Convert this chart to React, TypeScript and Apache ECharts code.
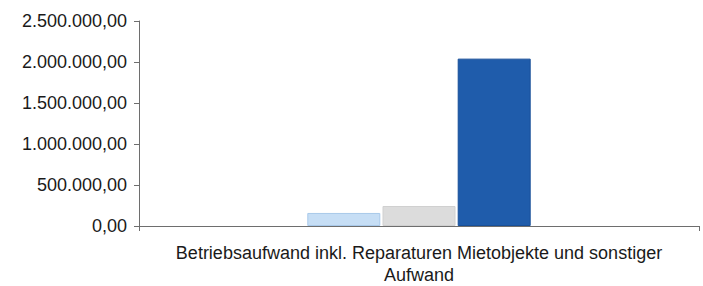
import React, { useEffect, useRef } from "react";
import * as echarts from "echarts";

const categories = ["Betriebsaufwand inkl. Reparaturen Mietobjekte und sonstiger\nAufwand"];
const seriesA = [159000];
const seriesB = [244000];
const seriesC = [2041000];
const yTicks = { min: 0, max: 2500000, interval: 500000 };

function fmtDE(v: number): string {
  const s = Math.round(v).toString().replace(/\B(?=(\d{3})+(?!\d))/g, ".");
  return s + ",00";
}

export default function App() {
  const ref = useRef<HTMLDivElement>(null);
  useEffect(() => {
    if (!ref.current) return;
    const chart = echarts.init(ref.current, undefined, { renderer: "svg" });
    const font = "Liberation Sans, Arial, sans-serif";
    chart.setOption({
      animation: false,
      grid: { left: 139, right: 4, top: 21, bottom: 58.5, containLabel: false },
      xAxis: {
        type: "category",
        data: categories,
        axisLine: { lineStyle: { color: "#6e6e6e", width: 1 } },
        axisTick: { show: true, length: 5, lineStyle: { color: "#6e6e6e" } },
        axisLabel: { color: "#1a1a1a", fontSize: 18, fontFamily: font, lineHeight: 22, margin: 16 },
      },
      yAxis: {
        type: "value",
        min: yTicks.min,
        max: yTicks.max,
        interval: yTicks.interval,
        axisLine: { show: true, lineStyle: { color: "#6e6e6e", width: 1 } },
        axisTick: { show: true, length: 5, lineStyle: { color: "#6e6e6e" } },
        splitLine: { show: false },
        axisLabel: {
          color: "#1a1a1a",
          fontSize: 18,
          fontFamily: font,
          margin: 12,
          formatter: (v: number) => fmtDE(v),
        },
      },
      series: [
        {
          type: "bar",
          data: seriesA,
          barWidth: 73,
          barGap: "0%",
          itemStyle: { color: "#c6def5", borderColor: "#a9c9ea", borderWidth: 1 },
        },
        {
          type: "bar",
          data: seriesB,
          barWidth: 73,
          barGap: "3%",
          itemStyle: { color: "#dcdcdc", borderColor: "#d0d0d0", borderWidth: 1 },
        },
        {
          type: "bar",
          data: seriesC,
          barWidth: 73,
          barGap: "3%",
          itemStyle: { color: "#1f5cab", borderColor: "#184f98", borderWidth: 1 },
        },
      ],
    });
    return () => chart.dispose();
  }, []);
  return <div ref={ref} style={{ width: 703, height: 286, position: "absolute", left: 0, top: 0 }} />;
}
